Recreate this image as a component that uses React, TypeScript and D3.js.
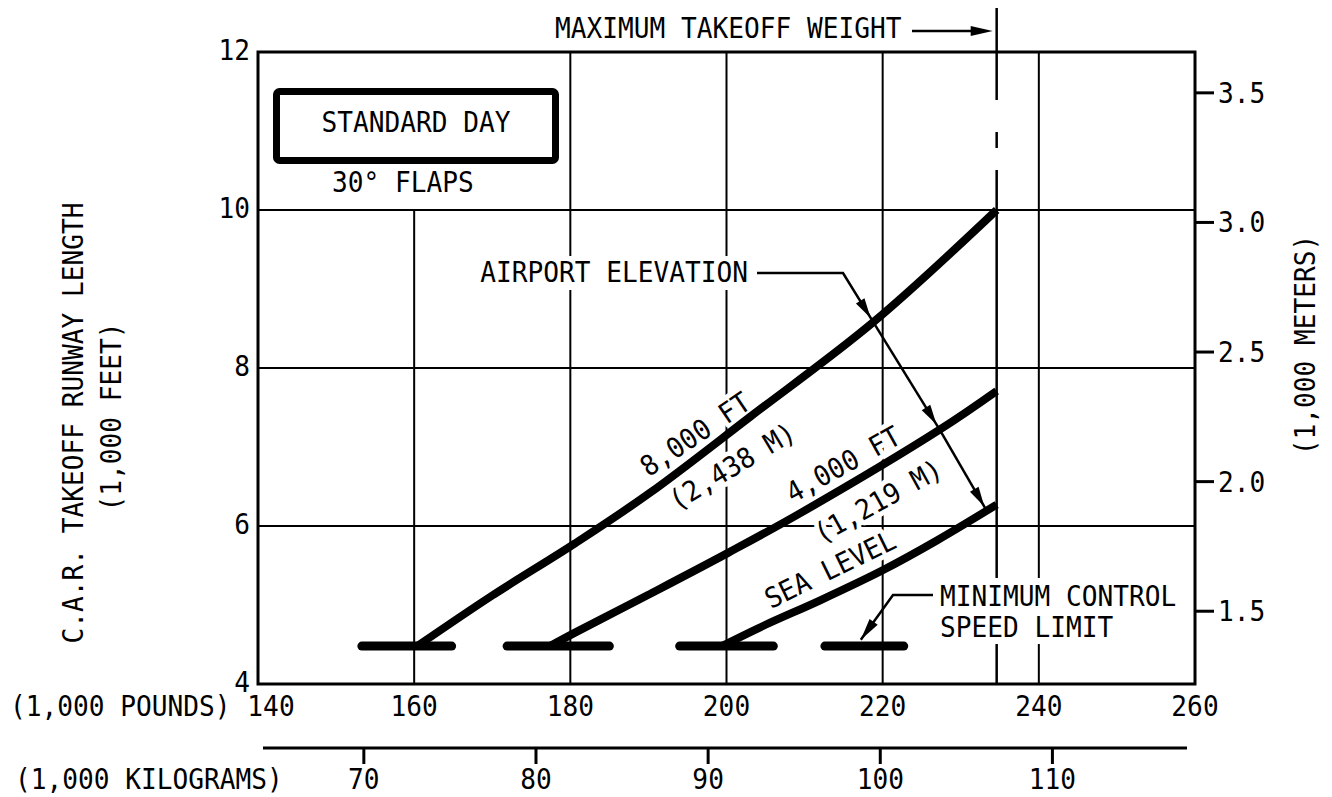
import React from 'react';
import * as d3 from 'd3';

// ---- data ----
const poundTicks = [140, 160, 180, 200, 220, 240, 260];
const kgTicks = [70, 80, 90, 100, 110];
const feetTicks = [4, 6, 8, 10, 12];
const meterTicks = [1.5, 2.0, 2.5, 3.0, 3.5];
const gridWeights = [160, 180, 200, 220, 240];
const gridFeet = [6, 8, 10];
const maxTakeoffWeight = 234.6;

const weights8000 = [160.4, 170, 180.6, 190.2, 203, 218.8, 234.6];
const runway8000 = [4.48, 5.12, 5.78, 6.42, 7.38, 8.58, 10.0];
const weights4000 = [177.4, 180.6, 190, 200.2, 209.4, 227.3, 234.6];
const runway4000 = [4.48, 4.65, 5.13, 5.66, 6.16, 7.22, 7.71];
const weightsSea = [199.4, 205, 212.0, 220.0, 227.0, 234.6];
const runwaySea = [4.48, 4.75, 5.06, 5.44, 5.82, 6.27];

const limitBarFrom = [153.3, 171.9, 194.0, 212.6];
const limitBarTo = [164.8, 185.0, 206.0, 222.7];
const limitLevel = 4.48;

const elevWeights = [218.8, 227.3, 233.4];
const elevRunway = [8.58, 7.22, 6.18];
const limitTarget = [217.2, 4.56];

const LB_PER_KG = 2.20462;
const FT_PER_M = 3.28084;

const FONT = '"DejaVu Sans Mono", "Liberation Mono", monospace';

const x = d3.scaleLinear().domain([140, 260]).range([258, 1195]);
const y = d3.scaleLinear().domain([4, 12]).range([684, 52]);
const kgShift = -6;
const xKg = d3.scaleLinear().domain([140 / LB_PER_KG, 260 / LB_PER_KG]).range([258 + kgShift, 1195 + kgShift]);
const yM = (km: number) => y(km * FT_PER_M);

function T({ x: tx, y: ty, children, anchor = 'start', rotate = 0, size = 28, halo = 0, dy = 0 }: any) {
  return (
    <g transform={`translate(${tx},${ty}) rotate(${rotate}) scale(0.935,1)`}>
      <text
        textAnchor={anchor}
        fontSize={size}
        fontFamily={FONT}
        fill="#000"
        dy={dy}
        stroke={halo ? '#fff' : 'none'}
        strokeWidth={halo}
        strokeLinejoin="round"
        style={{ paintOrder: 'stroke' }}
      >
        {children}
      </text>
    </g>
  );
}

function head(tx: number, ty: number, fx: number, fy: number, len = 18, hw = 5) {
  const dx = tx - fx, dy = ty - fy, L = Math.hypot(dx, dy);
  const ux = dx / L, uy = dy / L;
  const bx = tx - ux * len, by = ty - uy * len;
  return `M${tx},${ty}L${bx - uy * hw},${by + ux * hw}L${bx + uy * hw},${by - ux * hw}Z`;
}

export default function App() {
  const line = d3.line<number[]>().x(d => x(d[0])).y(d => y(d[1])).curve(d3.curveCatmullRom.alpha(0.5));
  const curves = [
    weights8000.map((w, i) => [w, runway8000[i]]),
    weights4000.map((w, i) => [w, runway4000[i]]),
    weightsSea.map((w, i) => [w, runwaySea[i]]),
  ];
  const [x0, x1] = x.range();
  const [y0, y1] = y.range();
  const mx = x(maxTakeoffWeight);
  const elevPts = elevWeights.map((w, i) => [x(w), y(elevRunway[i])]);

  const elevArrows = [0, 1].map(i => {
    const [ax, ay] = elevPts[i];
    const [bx, by] = elevPts[i + 1];
    const L = Math.hypot(bx - ax, by - ay);
    const tx = bx - ((bx - ax) / L) * 6, ty = by - ((by - ay) / L) * 6;
    return { ax, ay, bx, by, tx, ty };
  });

  const aeStart: [number, number] = [757, 273];
  const aeCorner: [number, number] = [843, 273];
  const aeTip = elevPts[0];
  const aeL = Math.hypot(aeTip[0] - aeCorner[0], aeTip[1] - aeCorner[1]);
  const aeHead = [aeTip[0] - ((aeTip[0] - aeCorner[0]) / aeL) * 5, aeTip[1] - ((aeTip[1] - aeCorner[1]) / aeL) * 5];

  const mcStart: [number, number] = [933, 595];
  const mcCorner: [number, number] = [893, 595];
  const mcTip = [x(limitTarget[0]), y(limitTarget[1])];

  return (
    <svg width={1332} height={797} style={{ position: 'absolute', left: 0, top: 0, background: '#fff' }}>
      <rect x={0} y={0} width={1332} height={797} fill="#fff" />
      {gridWeights.map(w => (
        <line key={'gx' + w} x1={x(w)} x2={x(w)} y1={w === 160 ? y(10) : y1} y2={y0} stroke="#000" strokeWidth={2} />
      ))}
      {gridFeet.map(f => (
        <line key={'gy' + f} x1={x0} x2={x1} y1={y(f)} y2={y(f)} stroke="#000" strokeWidth={2} />
      ))}
      <line x1={mx} x2={mx} y1={8} y2={y0} stroke="#000" strokeWidth={2.5} strokeDasharray="92 32 16 22 2000" />
      <rect x={x0} y={y1} width={x1 - x0} height={y0 - y1} fill="none" stroke="#000" strokeWidth={3} />

      {feetTicks.map(f => (
        <T key={'fl' + f} x={250} y={y(f) + 8} anchor="end">{String(f)}</T>
      ))}
      {poundTicks.map(p => (
        <T key={'pl' + p} x={x(p) + (p === 140 ? 13 : 0)} y={716} anchor="middle">{String(p)}</T>
      ))}
      <T x={10} y={716}>(1,000 POUNDS)</T>
      <line x1={263} x2={1187} y1={748} y2={748} stroke="#000" strokeWidth={3} />
      {kgTicks.map(k => (
        <g key={'kg' + k}>
          <line x1={xKg(k)} x2={xKg(k)} y1={748} y2={764} stroke="#000" strokeWidth={3} />
          <T x={xKg(k)} y={789} anchor="middle">{String(k)}</T>
        </g>
      ))}
      <T x={15} y={789}>(1,000 KILOGRAMS)</T>
      {meterTicks.map(m => (
        <g key={'m' + m}>
          <line x1={x1} x2={x1 + 19} y1={yM(m)} y2={yM(m)} stroke="#000" strokeWidth={3} />
          <T x={x1 + 23} y={yM(m) + 10}>{m.toFixed(1)}</T>
        </g>
      ))}
      <T x={1315} y={345} rotate={-90} anchor="middle">(1,000 METERS)</T>
      <T x={83} y={423} rotate={-90} anchor="middle">C.A.R. TAKEOFF RUNWAY LENGTH</T>
      <T x={121} y={417} rotate={-90} anchor="middle">(1,000 FEET)</T>

      <rect x={276.5} y={91.5} width={279} height={69} rx={3} fill="#fff" stroke="#000" strokeWidth={7} />
      <T x={416} y={132} anchor="middle">STANDARD DAY</T>
      <T x={332} y={192}>30° FLAPS</T>

      <T x={555} y={38}>MAXIMUM TAKEOFF WEIGHT</T>
      <line x1={912} x2={mx - 14} y1={31} y2={31} stroke="#000" strokeWidth={2.5} />
      <path d={head(mx - 4, 31, 912, 31, 22, 5)} fill="#000" />

      <rect x={476} y={256} width={278} height={34} fill="#fff" />
      <T x={748} y={282} anchor="end">AIRPORT ELEVATION</T>
      <path d={`M${aeStart[0]},${aeStart[1]}L${aeCorner[0]},${aeCorner[1]}L${aeTip[0]},${aeTip[1]}`} fill="none" stroke="#000" strokeWidth={2.5} />
      <path d={head(aeHead[0], aeHead[1], aeCorner[0], aeCorner[1], 20, 5)} fill="#000" />

      <rect x={933} y={578} width={252} height={66} fill="#fff" />
      <T x={940} y={606}>MINIMUM CONTROL</T>
      <T x={940} y={637}>SPEED LIMIT</T>
      <path d={`M${mcStart[0]},${mcStart[1]}L${mcCorner[0]},${mcCorner[1]}L${mcTip[0]},${mcTip[1]}`} fill="none" stroke="#000" strokeWidth={2.5} />
      <path d={head(mcTip[0], mcTip[1], mcCorner[0], mcCorner[1], 22, 5)} fill="#000" />

      <T x={695} y={434} rotate={-34} anchor="middle" dy="0.36em" halo={10}>8,000 FT</T>
      <T x={732} y={466} rotate={-31} anchor="middle" dy="0.36em" halo={10}>(2,438 M)</T>
      <T x={843} y={464} rotate={-29} anchor="middle" dy="0.36em" halo={10}>4,000 FT</T>
      <T x={878} y={501} rotate={-29} anchor="middle" dy="0.36em" halo={10}>(1,219 M)</T>
      <T x={830} y={569} rotate={-26} anchor="middle" dy="0.36em" halo={10}>SEA LEVEL</T>

      {curves.map((c, i) => (
        <path key={'c' + i} d={line(c as any) || ''} fill="none" stroke="#000" strokeWidth={8} strokeLinejoin="round" />
      ))}
      {limitBarFrom.map((w, i) => (
        <line key={'b' + i} x1={x(w)} x2={x(limitBarTo[i])} y1={y(limitLevel)} y2={y(limitLevel)} stroke="#000" strokeWidth={9} strokeLinecap="round" />
      ))}
      {elevArrows.map((a, i) => (
        <g key={'ea' + i}>
          <line x1={a.ax} y1={a.ay} x2={a.bx} y2={a.by} stroke="#000" strokeWidth={2.5} />
          <path d={head(a.tx, a.ty, a.ax, a.ay, 20, 5)} fill="#000" />
        </g>
      ))}
    </svg>
  );
}
